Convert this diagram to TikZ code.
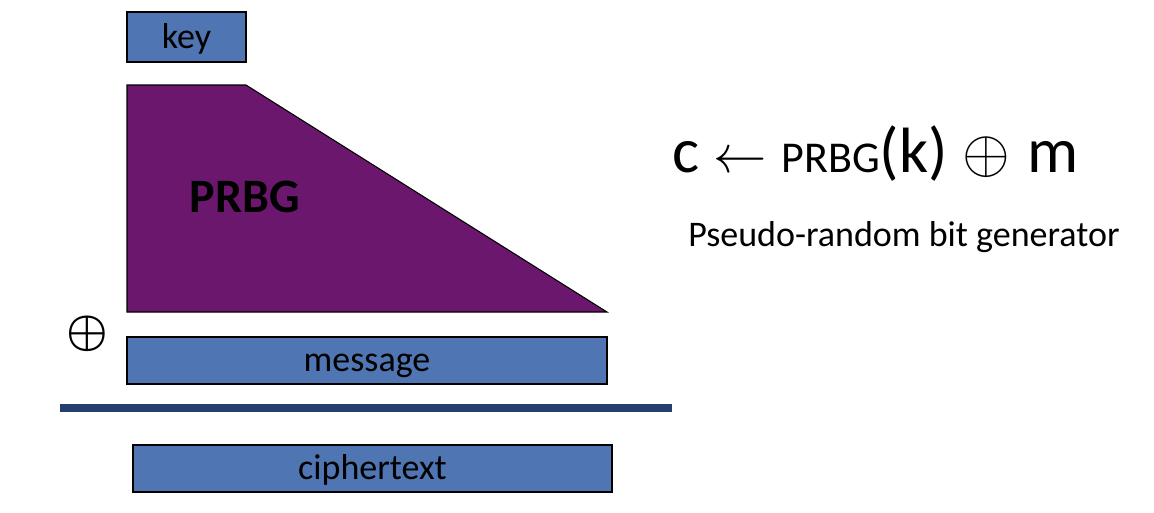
\RequirePackage{fix-cm}
\documentclass[tikz,border=0pt]{standalone}
\usepackage{fontspec}
\setmainfont{Carlito}
\usetikzlibrary{positioning}

\definecolor{blockblue}{RGB}{79,117,178}
\definecolor{prbgpurple}{RGB}{108,23,110}
\definecolor{rulenavy}{RGB}{36,62,110}

\begin{document}
\begin{tikzpicture}[x=0.75pt, y=-0.75pt]
\tikzstyle{block}=[rectangle, draw=black, thick, fill=blockblue, inner sep=0pt,
  text height=20pt, text depth=2.8pt, font=\fontsize{27}{30}\selectfont]
\tikzstyle{bigtext}=[inner sep=0pt, anchor=base west]

\useasboundingbox (0,0) rectangle (1154,512);

% 1. Blocks
%%%%%%%%%%
\node[block, minimum width=89.25pt, minimum height=37.5pt] (key) at (186.5,37) {key};
\node[block, minimum width=360pt, minimum height=35.25pt] (message) at (367,360.5) {message};
\node[block, minimum width=359.25pt, minimum height=35.25pt] (ciphertext) at (372.5,468.5) {ciphertext};

% 2. Generator
%%%%%%%%%%%%%
\coordinate (g1) at (127,85);
\coordinate (g2) at (246,85);
\coordinate (g3) at (607,312);
\coordinate (g4) at (127,312);
\draw[thick, fill=prbgpurple] (g1) -- (g2) -- (g3) -- (g4) -- cycle;
\node[inner sep=0pt, font=\fontsize{36}{40}\selectfont\bfseries] (prbg) at (245,197) {PRBG};

\node[inner sep=0pt, font=\fontsize{35}{38}\selectfont\boldmath] (xor) at (87,334) {$\oplus$};

% 3. Rule
%%%%%%%%
\coordinate (r1) at (60,408);
\coordinate (r2) at (672,408);
\draw[rulenavy, line width=5.5pt] (r1) -- (r2);

% 4. Formula
%%%%%%%%%%%
\node[bigtext, font=\fontsize{48}{54}\selectfont] (formula) at (672,172)
  {c {\fontsize{40}{44}\selectfont$\leftarrow$} {\fontsize{33}{36}\selectfont PRBG}(k)
   {\fontsize{46}{50}\selectfont$\oplus$} \kern2pt m};
\node[bigtext, font=\fontsize{27}{30}\selectfont] (caption) at (688,246) {Pseudo-random bit generator};

\end{tikzpicture}
\end{document}
